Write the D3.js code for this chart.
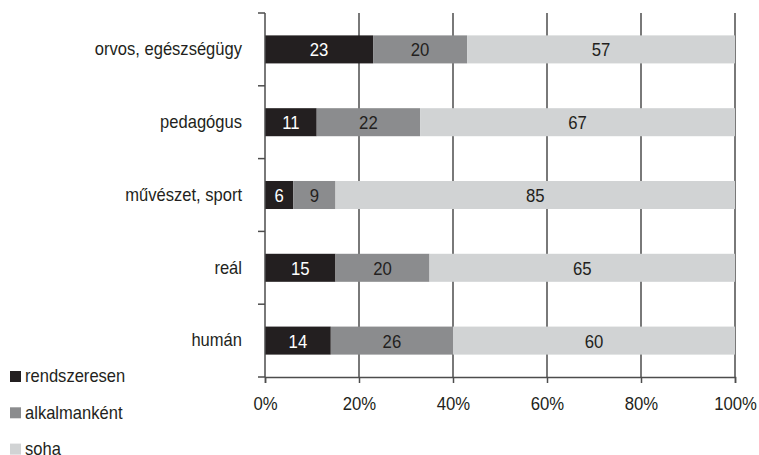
<!DOCTYPE html>
<html><head><meta charset="utf-8">
<script src="https://cdn.jsdelivr.net/npm/d3@7"></script>
<style>
html,body{margin:0;padding:0;background:#fff;}
text{font-family:"Liberation Sans","Arial",sans-serif;}
</style></head>
<body>
<svg id="chart" width="759" height="455"></svg>
<script>
const categories = ["orvos, egészségügy","pedagógus","művészet, sport","reál","humán"];
const seriesNames = ["rendszeresen","alkalmanként","soha"];
const rendszeresen = [23,11,6,15,14];
const alkalmankent = [20,22,9,20,26];
const soha = [57,67,85,65,60];
const xTicks = [0,20,40,60,80,100];
const colors = ["#231f20","#8b8c8e","#d1d3d4"];
const labelColors = ["#ffffff","#231f20","#231f20"];

(function(){
const svg = d3.select("#chart");
const pLeft = 265, pRight = 735, pTop = 13, pBottom = 377;
const x = d3.scaleLinear().domain([0,100]).range([pLeft,pRight]);
const y = d3.scaleBand().domain(categories).range([pTop,pBottom]).paddingInner(0.615).paddingOuter(0.3075);
const yb = d3.scaleBand().domain(categories).range([pTop,pBottom]);
const SX = 0.92, SXN = 0.88;

const data = categories.map((c,i)=>({cat:c, rendszeresen:rendszeresen[i], "alkalmanként":alkalmankent[i], soha:soha[i]}));
const stack = d3.stack().keys(seriesNames)(data);

// gridlines
svg.append("g").selectAll("line").data(xTicks.slice(1)).join("line")
  .attr("x1",d=>x(d)).attr("x2",d=>x(d)).attr("y1",pTop).attr("y2",pBottom)
  .attr("stroke","#4d4d4d").attr("stroke-width",1.5);

// bars
const layers = svg.append("g").selectAll("g").data(stack).join("g")
  .attr("fill",(d,i)=>colors[i]);
layers.selectAll("rect").data(d=>d).join("rect")
  .attr("x",d=>x(d[0])).attr("width",d=>x(d[1])-x(d[0]))
  .attr("y",d=>y(d.data.cat)).attr("height",y.bandwidth());

// value labels
stack.forEach((layer,i)=>{
  svg.append("g").selectAll("text").data(layer).join("text")
    .attr("transform",d=>`translate(${(x(d[0])+x(d[1]))/2},${y(d.data.cat)+y.bandwidth()/2}) scale(${SXN},1)`)
    .attr("dy","0.37em")
    .attr("text-anchor","middle")
    .attr("font-size","19px")
    .attr("fill",labelColors[i])
    .text(d=>d[1]-d[0]);
});

// y axis
svg.append("line").attr("x1",pLeft).attr("x2",pLeft).attr("y1",pTop).attr("y2",pBottom)
  .attr("stroke","#4d4d4d").attr("stroke-width",1.5);
const boundaries = categories.map(c=>yb(c)).concat([pBottom]);
svg.append("g").selectAll("line").data(boundaries).join("line")
  .attr("x1",pLeft-7).attr("x2",pLeft).attr("y1",d=>d).attr("y2",d=>d)
  .attr("stroke","#4d4d4d").attr("stroke-width",1.5);
svg.append("g").selectAll("text").data(categories).join("text")
  .attr("transform",d=>`translate(242,${y(d)+y.bandwidth()/2}) scale(${SX},1)`)
  .attr("dy","0.32em")
  .attr("text-anchor","end").attr("font-size","18px").attr("fill","#231f20")
  .text(d=>d);

// x axis
const xAxis = svg.append("g").attr("transform",`translate(0,${pBottom})`)
  .call(d3.axisBottom(x).tickValues(xTicks).tickFormat(d=>d+"%").tickSize(6).tickPadding(14));
xAxis.select(".domain").attr("stroke","#4d4d4d").attr("stroke-width",1.5);
xAxis.selectAll(".tick line").attr("stroke","#4d4d4d").attr("stroke-width",1.5);
xAxis.selectAll(".tick text").attr("font-size","19px").attr("fill","#231f20")
  .attr("font-family","Liberation Sans, Arial, sans-serif")
  .attr("transform",`scale(${SXN},1)`);

// legend
const lg = svg.append("g").selectAll("g").data(seriesNames).join("g")
  .attr("transform",(d,i)=>`translate(10,${377+i*36.3})`);
lg.append("rect").attr("x",0).attr("y",-6).attr("width",11).attr("height",11)
  .attr("fill",(d,i)=>colors[i]);
lg.append("text").attr("transform",`translate(15,0) scale(${SX},1)`).attr("dy","0.3em")
  .attr("font-size","18px").attr("fill","#231f20").text(d=>d);
})();
</script>
</body></html>
